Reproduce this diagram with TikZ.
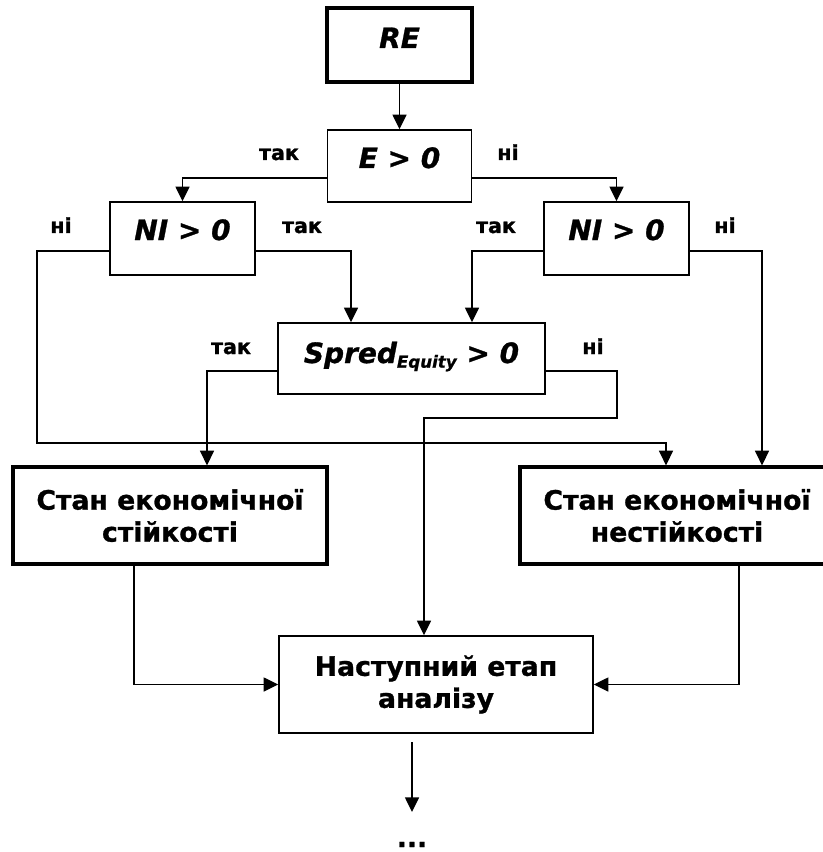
\documentclass[tikz,border=0pt]{standalone}
\usepackage{fontspec}
\setmainfont{DejaVu Sans}[BoldFeatures={FakeBold=1}, BoldItalicFeatures={FakeBold=1}]
\usetikzlibrary{arrows.meta,calc}

\tikzset{
  box/.style={draw, line width=1.1pt, inner sep=0pt, fill=white},
  thickbox/.style={box, line width=2.4pt},
  conn/.style={line width=1.1pt},
  arr/.style={conn, -{Triangle[length=11pt,width=10.5pt]}},
  lbl/.style={anchor=base, inner sep=0pt, font=\fontsize{15.5}{18}\selectfont\bfseries},
  frm/.style={anchor=base, inner sep=0pt, font=\fontsize{21}{25}\selectfont\bfseries\itshape},
  txt/.style={align=center, font=\fontsize{20}{24}\selectfont\bfseries}
}

\begin{document}
\begin{tikzpicture}[x=0.75pt, y=-0.75pt]
  \clip (0,0) rectangle (823,852);
  \fill[white] (0,0) rectangle (823,852);

  % decision boxes
  \node[thickbox, minimum width=108.75pt, minimum height=55.5pt] (RE) at (399.5,45) {};
  \node[box, minimum width=108pt, minimum height=54pt] (E) at (399.5,166) {};
  \node[box, minimum width=108.75pt, minimum height=54.75pt] (NIL) at (182.5,238.5) {};
  \node[box, minimum width=108.75pt, minimum height=54.75pt] (NIR) at (616.5,238.5) {};
  \node[box, minimum width=200.25pt, minimum height=53.25pt] (SP) at (411.5,358.5) {};

  % formulas inside the decision boxes
  \node[frm] (tRE) at (399.5,48) {RE};
  \node[frm] (tE) at (399.5,168) {E > 0};
  \node[frm] (tNIL) at (182.5,240) {NI > 0};
  \node[frm] (tNIR) at (616.5,240) {NI > 0};
  \node[frm] (tSP) at (411.5,363) {Spred\raisebox{-3.5pt}{\fontsize{12.5}{12.5}\selectfont Equity} > 0};

  % outcome boxes
  \node[thickbox, txt, minimum width=235.5pt, minimum height=72.75pt] (SL) at (170,515.5)
    {Стан економічної\\стійкості};
  \node[thickbox, minimum width=232.5pt, minimum height=72.75pt] (SR) at (675,515.5) {};
  \node[txt] (tSR) at (677,515.5) {Стан економічної\\нестійкості};
  \node[box, txt, minimum width=235.5pt, minimum height=72.75pt] (NX) at (436,684.5)
    {Наступний етап\\аналізу};

  % branch labels
  \node[lbl] (l1) at (279,160) {так};
  \node[lbl] (l2) at (508,160) {ні};
  \node[lbl] (l3) at (61,233) {ні};
  \node[lbl] (l4) at (302,233) {так};
  \node[lbl] (l5) at (496,233) {так};
  \node[lbl] (l6) at (725,233) {ні};
  \node[lbl] (l7) at (231,354) {так};
  \node[lbl] (l8) at (593,354) {ні};

  % routing points
  \coordinate (loopL) at (37,443);
  \coordinate (jog) at (617,418);
  \coordinate (go) at (412,742);
  \coordinate (goend) at (412,812);

  % connectors
  \draw[arr] (RE.south) -- (E.north);
  \draw[arr] ($(E.west)+(0,12)$) -| (NIL.north);
  \draw[arr] ($(E.east)+(0,12)$) -| (NIR.north);
  \draw[arr] ($(NIL.west)+(0,12.5)$) -| (loopL) -| ($(SR.north)+(-9,0)$);
  \draw[arr] ($(NIL.east)+(0,12.5)$) -| ($(SP.north)+(-60.5,0)$);
  \draw[arr] ($(NIR.west)+(0,12.5)$) -| ($(SP.north)+(60.5,0)$);
  \draw[arr] ($(NIR.east)+(0,12.5)$) -| ($(SR.north)+(87,0)$);
  \draw[arr] ($(SP.west)+(0,12.5)$) -| ($(SL.north)+(37,0)$);
  \draw[arr] ($(SP.east)+(0,12.5)$) -| (jog) -| ($(NX.north)+(-12,0)$);
  \draw[arr] ($(SL.south)+(-36,0)$) |- (NX.west);
  \draw[arr] ($(SR.south)+(64,0)$) |- (NX.east);
  \draw[arr] (go) -- (goend);

  \node[anchor=base, inner sep=0pt, font=\fontsize{20}{24}\selectfont\bfseries] (dots) at (412,847) {...};
\end{tikzpicture}
\end{document}
